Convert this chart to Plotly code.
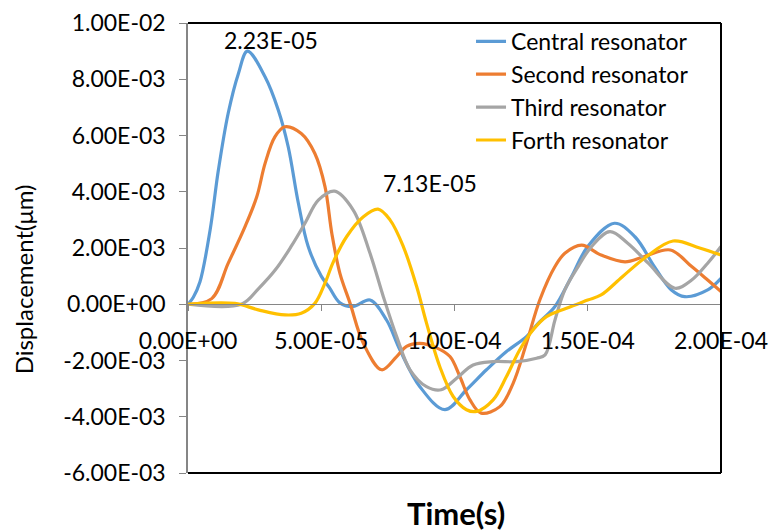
import plotly.graph_objects as go

# ---- data (time in units of 1e-5 s, displacement in units of 1e-3 um) ----
central_t = [0, 0.2, 0.45, 0.83, 1.14, 1.51, 1.89, 2.23, 2.89, 3.39, 3.76, 4.14, 4.51, 5.0, 5.3, 5.7,
             6.2, 6.83, 7.45, 7.95, 8.7, 9.64, 10.45, 11.2, 11.95, 12.7, 13.14, 13.77, 14.39, 15.0,
             16.0, 16.77, 17.5, 18.14, 18.64, 19.5, 20.0]
central_y = [0, 0.25, 0.8, 2.64, 4.77, 6.8, 8.2, 9.0, 8.09, 6.9, 5.6, 3.6, 2.05, 1.0, 0.6, 0.05,
             -0.08, 0.15, -0.56, -1.62, -2.93, -3.75, -3.04, -2.33, -1.68, -1.15, -0.68, -0.08, 0.98, 2.05,
             2.88, 2.4, 1.34, 0.51, 0.27, 0.51, 0.92]

second_t = [0, 0.89, 1.51, 2.14, 2.58, 2.89, 3.26, 3.63, 4.25, 4.76, 5.14, 5.4, 5.7, 6.08, 6.58, 7.27,
            7.83, 8.2, 8.7, 9.33, 9.83, 10.2, 10.58, 11.0, 11.7, 12.2, 12.7, 13.2, 13.77, 14.14, 14.77,
            15.5, 16.4, 17.1, 18.1, 18.9, 19.5, 20.0]
second_y = [0, 0.2, 1.46, 2.76, 3.82, 5.0, 5.95, 6.31, 6.07, 5.36, 4.18, 2.5, 1.1, 0.04, -1.39, -2.33,
            -1.86, -1.5, -1.39, -1.55, -1.86, -2.57, -3.4, -3.87, -3.64, -2.81, -1.39, 0.15, 1.34, 1.81, 2.1,
            1.75, 1.51, 1.69, 1.93, 1.34, 0.86, 0.45]

third_t = [0, 2.0, 2.64, 3.3, 3.9, 4.4, 4.89, 5.5, 6.2, 6.83, 7.33, 7.83, 8.33, 8.95, 9.5, 10.08,
           10.7, 11.45, 12.33, 13.08, 13.4, 13.77, 14.14, 14.64, 15.14, 15.83, 16.5, 17.27, 18.27,
           18.9, 19.5, 20.0]
third_y = [0, 0.0, 0.55, 1.25, 2.1, 2.9, 3.7, 4.02, 3.35, 1.81, 0.27, -1.15, -2.33, -2.93, -3.04, -2.63,
           -2.16, -2.04, -2.04, -1.92, -1.8, -0.56, 0.51, 1.34, 2.05, 2.58, 2.17, 1.46, 0.57,
           0.86, 1.46, 2.05]

forth_t = [0, 1.76, 2.64, 3.64, 4.25, 4.76, 5.14, 5.45, 5.95, 6.58, 7.13, 7.58, 8.08, 8.58, 8.95, 9.45,
           9.95, 10.45, 10.83, 11.45, 11.95, 12.45, 12.95, 13.45, 14.2, 15.0, 15.5, 16.3, 17.2, 18.2,
           19.2, 20.0]
forth_y = [0, 0.03, -0.2, -0.38, -0.32, 0.03, 0.75, 1.5, 2.4, 3.11, 3.38, 3.0, 2.05, 0.63, -0.67, -2.22,
           -3.28, -3.75, -3.81, -3.4, -2.57, -1.62, -0.91, -0.44, -0.14, 0.15, 0.33, 0.98, 1.69, 2.25,
           2.0, 1.75]

series_names = ["Central resonator", "Second resonator", "Third resonator", "Forth resonator"]
series_colors = ["#5B9BD5", "#ED7D31", "#A5A5A5", "#FFC000"]

x_tickvals = [0, 5e-5, 1e-4, 1.5e-4, 2e-4]
x_ticktext = ["0.00E+00", "5.00E-05", "1.00E-04", "1.50E-04", "2.00E-04"]
y_tickvals = [-6e-3, -4e-3, -2e-3, 0, 2e-3, 4e-3, 6e-3, 8e-3, 1e-2]
y_ticktext = ["-6.00E-03", "-4.00E-03", "-2.00E-03", "0.00E+00", "2.00E-03",
              "4.00E-03", "6.00E-03", "8.00E-03", "1.00E-02"]

peak_labels = [("2.23E-05", 2.23e-5, 9.0e-3, 24, -5), ("7.13E-05", 7.13e-5, 3.38e-3, 52, 10)]

T_SCALE = 1e-5
Y_SCALE = 1e-3

FONT = "Lato"

fig = go.Figure()
for name, color, t, y in zip(series_names, series_colors,
                             [central_t, second_t, third_t, forth_t],
                             [central_y, second_y, third_y, forth_y]):
    fig.add_trace(go.Scatter(
        x=[v * T_SCALE for v in t], y=[v * Y_SCALE for v in y],
        mode="lines", name=name, legendgroup=name,
        line=dict(color=color, width=3.2, shape="spline", smoothing=1.0),
    ))

fig.update_layout(
    width=771, height=532,
    margin=dict(l=188, r=50, t=23, b=59, autoexpand=False),
    paper_bgcolor="white", plot_bgcolor="white",
    font=dict(family=FONT, size=23, color="black"),
    showlegend=True,
    legend=dict(x=0.531, y=1.007, xanchor="left", yanchor="top",
                font=dict(family=FONT, size=23, color="black"),
                bgcolor="rgba(0,0,0,0)", traceorder="grouped", tracegroupgap=0),
    xaxis=dict(range=[0, 2e-4], tickvals=x_tickvals, ticktext=x_ticktext,
               anchor="free", position=0.375, showline=True, linecolor="#868686", linewidth=1,
               ticks="outside", ticklen=6, tickcolor="#868686", showgrid=False, zeroline=False,
               tickfont=dict(family=FONT, size=23, color="black"), ticklabelstandoff=10),
    yaxis=dict(range=[-6e-3, 1e-2], tickvals=y_tickvals, ticktext=y_ticktext,
               showline=True, linecolor="#868686", linewidth=1.5,
               ticks="outside", ticklen=7, tickcolor="#868686", showgrid=False, zeroline=False,
               tickfont=dict(family=FONT, size=23, color="black"), ticklabelstandoff=9),
)

# plot-area border (top, right, bottom)
for (x0, y0, x1, y1) in [(0, 1, 1, 1), (1, 0, 1, 1), (0, 0, 1, 0)]:
    fig.add_shape(type="line", xref="paper", yref="paper", x0=x0, y0=y0, x1=x1, y1=y1,
                  line=dict(color="black", width=2))

for text, px, py, xs, ys in peak_labels:
    fig.add_annotation(x=px, y=py, text=text, showarrow=False, xanchor="center", yanchor="bottom",
                       xshift=xs, yshift=ys, font=dict(family=FONT, size=23, color="black"))

fig.add_annotation(text="Displacement(μm)", xref="paper", yref="paper",
                   x=-0.339, y=0.43, textangle=-90, showarrow=False,
                   font=dict(family=FONT, size=24, color="black"))
fig.add_annotation(text="<b>Time(s)</b>", xref="paper", yref="paper",
                   x=0.503, y=-0.088, yanchor="middle", showarrow=False,
                   font=dict(family=FONT, size=31, color="black"))

fig.write_html("out.html")
